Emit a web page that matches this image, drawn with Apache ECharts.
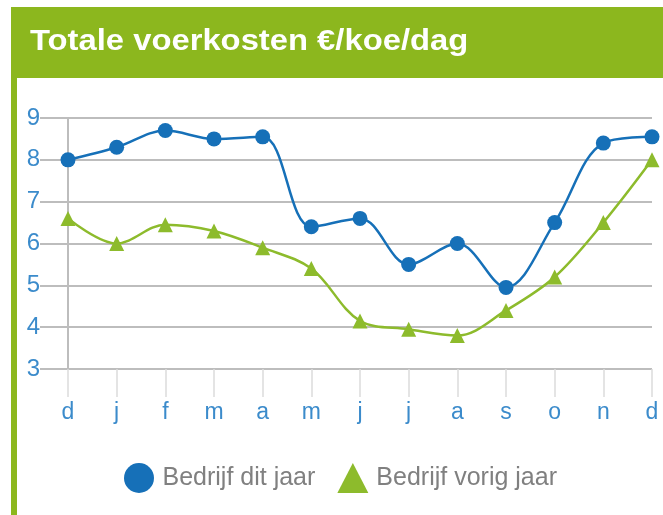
<!DOCTYPE html>
<html>
<head>
<meta charset="utf-8">
<script src="https://cdn.jsdelivr.net/npm/echarts@6/dist/echarts.min.js"></script>
<style>
  html, body { margin: 0; padding: 0; background: #fff; }
  #chart { width: 663px; height: 515px; }
</style>
</head>
<body>
<div id="chart"></div>
<script>
// maanden, december t/m december
const months = ['d', 'j', 'f', 'm', 'a', 'm', 'j', 'j', 'a', 's', 'o', 'n', 'd']
const ditJaar = [8.0, 8.3, 8.7, 8.5, 8.55, 6.4, 6.6, 5.5, 6.0, 4.95, 6.5, 8.4, 8.55]
const vorigJaar = [6.6, 6.0, 6.45, 6.3, 5.9, 5.4, 4.15, 3.95, 3.8, 4.4, 5.2, 6.5, 8.0]
const yTicks = [3, 4, 5, 6, 7, 8, 9]
const titel = 'Totale voerkosten €/koe/dag'

const chart = echarts.init(document.getElementById('chart'))

const option = {
  backgroundColor: '#fff',
  animation: false,
  textStyle: { fontFamily: 'Liberation Sans, Arial, sans-serif' },
  graphic: [
    // groene kop
    { type: 'rect', z: -1, shape: { x: 11, y: 7, width: 652, height: 71 }, style: { fill: '#8cb71e' } },
    // groene rand links
    { type: 'rect', z: -1, shape: { x: 11, y: 78, width: 6, height: 437 }, style: { fill: '#8cb71e' } },
    {
      type: 'text',
      x: 30,
      y: 42,
      scaleX: 1.13,
      style: {
        text: titel,
        fill: '#fff',
        font: 'bold 29px "Liberation Sans", Arial, sans-serif',
        verticalAlign: 'middle'
      }
    }
  ],
  legend: {
    top: 458,
    left: 119,
    itemWidth: 31,
    itemHeight: 30,
    itemGap: 22,
    textStyle: { color: '#808080', fontSize: 25, padding: [0, 0, 0, 3] },
    data: [
      { name: 'Bedrijf dit jaar', icon: 'circle' },
      { name: 'Bedrijf vorig jaar', icon: 'triangle' }
    ]
  },
  grid: { left: 68, right: 11, top: 118, bottom: 146 },
  xAxis: {
    type: 'category',
    boundaryGap: false,
    data: months,
    axisLine: { show: false },
    axisTick: { show: true, length: 28, lineStyle: { color: '#dcdcdc', width: 1.5 } },
    axisLabel: { color: '#3b8bcb', fontSize: 23, margin: 32 },
    splitLine: { show: false }
  },
  yAxis: {
    type: 'value',
    min: yTicks[0],
    max: yTicks[yTicks.length - 1],
    interval: 1,
    axisLine: { show: true, lineStyle: { color: '#bdbdbd', width: 2 } },
    axisTick: { show: true, length: 28, lineStyle: { color: '#bdbdbd', width: 2 } },
    axisLabel: { color: '#3b8bcb', fontSize: 24, margin: 28 },
    splitLine: { show: true, lineStyle: { color: '#bdbdbd', width: 2 } }
  },
  series: [
    {
      name: 'Bedrijf dit jaar',
      type: 'line',
      smooth: 0.35,
      data: ditJaar,
      symbol: 'circle',
      symbolSize: 15,
      itemStyle: { color: '#1670b8' },
      lineStyle: { color: '#1670b8', width: 2.5 }
    },
    {
      name: 'Bedrijf vorig jaar',
      type: 'line',
      smooth: 0.35,
      data: vorigJaar,
      symbol: 'triangle',
      symbolSize: 15,
      itemStyle: { color: '#8dbb2c' },
      lineStyle: { color: '#8dbb2c', width: 2.5 }
    }
  ]
}

chart.setOption(option)
</script>
</body>
</html>
